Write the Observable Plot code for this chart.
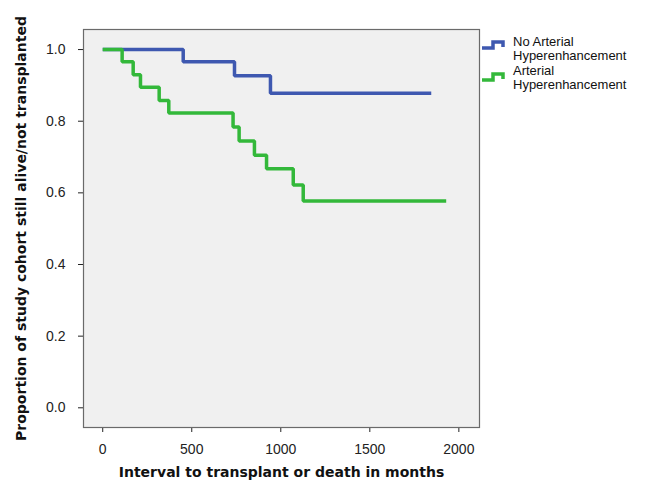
<!DOCTYPE html>
<html>
<head>
<meta charset="utf-8">
<script src="https://cdn.jsdelivr.net/npm/d3@7"></script>
<script src="https://cdn.jsdelivr.net/npm/@observablehq/plot@0.6"></script>
<style>
  body { margin: 0; background: #fff; font-family: "Liberation Sans", Arial, sans-serif; }
  #wrap { position: relative; width: 648px; height: 483px; }
  .leg { position: absolute; left: 482px; font-size: 13px; line-height: 14px; color: #111; }
  .leg svg { position: absolute; left: 0; }
  .leg span { position: absolute; left: 31px; white-space: nowrap; }
</style>
</head>
<body>
<div id="wrap"></div>
<script>
// Kaplan-Meier step data (time in months, proportion surviving)
const seriesNames = ["No Arterial Hyperenhancement", "Arterial Hyperenhancement"];
const seriesColors = ["#3e58b0", "#33b83a"];
const noAHTime = [0, 452, 740, 942, 1845];
const noAHSurv = [1.0, 0.966, 0.927, 0.878, 0.878];
const ahTime = [0, 109, 171, 212, 317, 371, 732, 766, 852, 920, 1070, 1126, 1929];
const ahSurv = [1.0, 0.966, 0.930, 0.895, 0.858, 0.823, 0.784, 0.745, 0.705, 0.667, 0.622, 0.577, 0.577];
const xTicks = [0, 500, 1000, 1500, 2000];
const yTicks = [0.0, 0.2, 0.4, 0.6, 0.8, 1.0];
const xLabel = "Interval to transplant or death in months";
const yLabel = "Proportion of study cohort still alive/not transplanted";

const noAH = noAHTime.map((t, i) => ({t, s: noAHSurv[i], g: seriesNames[0]}));
const ah = ahTime.map((t, i) => ({t, s: ahSurv[i], g: seriesNames[1]}));

const chart = Plot.plot({
  width: 648,
  height: 483,
  marginLeft: 83,
  marginRight: 169,
  marginTop: 29,
  marginBottom: 56,
  style: {fontFamily: "'Liberation Sans', Arial, sans-serif", fontSize: "14px", color: "#222", background: "#fff"},
  x: {domain: [-108, 2116], ticks: xTicks, tickSize: 5, tickPadding: 12, tickFormat: d3.format("d"), label: null},
  y: {domain: [-0.055, 1.056], ticks: yTicks, tickSize: 5, tickPadding: 13, tickFormat: d3.format(".1f"), label: null},
  marks: [
    Plot.frame({fill: "#f0f0f0", stroke: "#6a6a6a", strokeWidth: 1.2}),
    Plot.line(noAH, {x: "t", y: "s", curve: "step-after", stroke: seriesColors[0], strokeWidth: 3.5, strokeLinejoin: "miter", strokeLinecap: "butt"}),
    Plot.line(ah, {x: "t", y: "s", curve: "step-after", stroke: seriesColors[1], strokeWidth: 3.5, strokeLinejoin: "miter", strokeLinecap: "butt"}),
    Plot.text([xLabel], {frameAnchor: "bottom", dy: 45, text: d => d, fontFamily: "'DejaVu Sans', Verdana, sans-serif", fontWeight: "bold", fontSize: 14, fill: "#111", textAnchor: "middle", lineAnchor: "middle"}),
    Plot.text([yLabel], {frameAnchor: "left", dx: -62, rotate: -90, text: d => d, fontFamily: "'DejaVu Sans', Verdana, sans-serif", fontWeight: "bold", fontSize: 14, fill: "#111", textAnchor: "middle", lineAnchor: "middle"})
  ]
});
const wrap = document.getElementById("wrap");
wrap.appendChild(chart);

// Legend (HTML overlay)
const labelsLines = [["No Arterial", "Hyperenhancement"], ["Arterial", "Hyperenhancement"]];
const tops = [35, 64];
labelsLines.forEach((lines, i) => {
  const d = document.createElement("div");
  d.className = "leg";
  d.style.top = tops[i] + "px";
  d.innerHTML = `<svg width="24" height="14" style="top:${i === 0 ? 3 : 6}px"><path d="M0,10 H11 V4 H21 V9" fill="none" stroke="${seriesColors[i]}" stroke-width="3.5"/></svg>` +
    lines.map((l, j) => `<span style="top:${j * 14}px">${l}</span>`).join("");
  wrap.appendChild(d);
});
</script>
</body>
</html>
